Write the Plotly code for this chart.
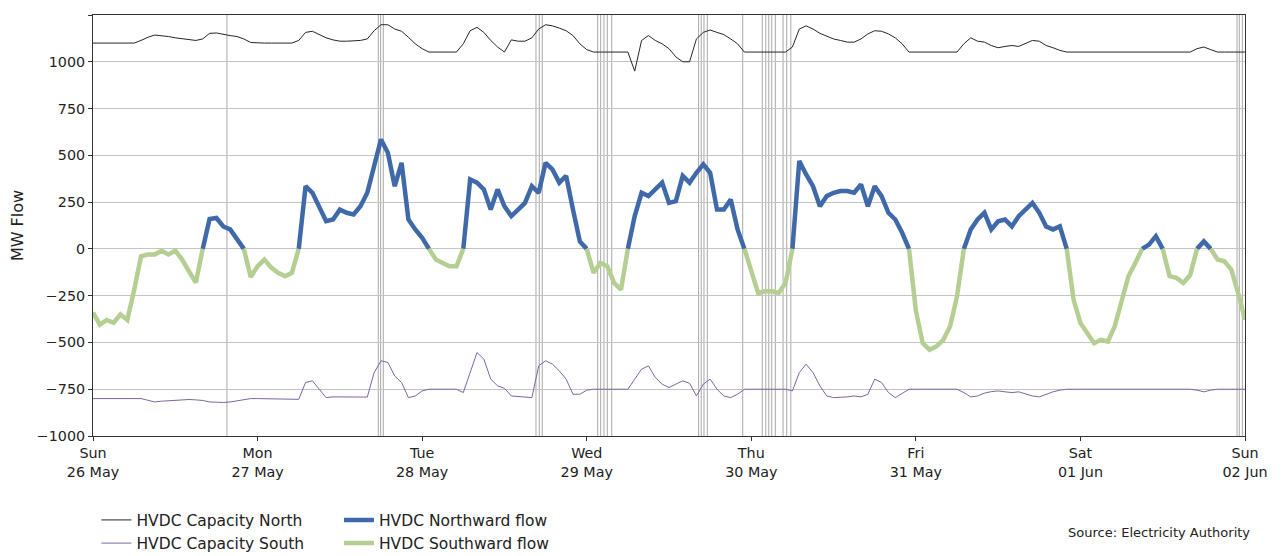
import pandas as pd
import plotly.graph_objects as go

start_time = "2024-05-26 00:00"
n_hours = 169

capacity_north = [
    1100, 1100, 1100, 1100, 1100, 1100, 1100,
    1114, 1131, 1143, 1140, 1135, 1128, 1122, 1117, 1114, 1122, 1152, 1154, 1145, 1140, 1135, 1122, 1103,
    1100, 1100, 1100, 1100, 1100, 1100,
    1114, 1157, 1163, 1145, 1128, 1117, 1110, 1110, 1110, 1114, 1122, 1166, 1198, 1198, 1175, 1163, 1131, 1096, 1070, 1052,
    1052, 1052, 1052, 1052,
    1096, 1166, 1184, 1157, 1114, 1079, 1052, 1117, 1110, 1110, 1128, 1175, 1198, 1192, 1180, 1166, 1140, 1096, 1065, 1052,
    1052, 1052, 1052, 1052, 1052,
    950, 1114, 1140, 1114, 1096, 1070, 1026, 1000, 1000, 1122, 1157, 1170, 1157, 1145, 1122, 1096, 1052,
    1052, 1052, 1052, 1052, 1052, 1052,
    1079, 1175, 1192, 1175, 1152, 1135, 1122, 1114, 1105, 1105, 1122, 1149, 1166, 1163, 1149, 1128, 1096, 1052,
    1052, 1052, 1052, 1052, 1052, 1052, 1052,
    1096, 1128, 1110, 1105, 1087, 1075, 1082, 1087, 1082, 1100, 1114, 1110, 1087, 1075, 1061,
    1052, 1052, 1052, 1052, 1052, 1052, 1052, 1052, 1052, 1052, 1052, 1052, 1052, 1052, 1052, 1052, 1052, 1052, 1052,
    1070, 1079, 1065,
    1052, 1052, 1052, 1052, 1052,
]

capacity_south = [
    -800, -800, -800, -800, -800, -800, -800, -800,
    -809, -818, -814, -812, -809, -807, -805, -807, -810, -818, -821, -821, -818, -812, -807, -800,
    -800, -800, -800, -800, -800, -800,
    -804, -714, -705, -750, -795, -791, -791, -791, -790, -791, -792, -661, -598, -607, -679, -714, -795, -786, -759, -750,
    -750, -750, -750, -750,
    -768, -661, -554, -589, -696, -732, -745, -786, -789, -791, -795, -625, -598, -616, -652, -696, -777, -777, -755, -750,
    -750, -750, -750, -750, -750,
    -696, -643, -625, -687, -723, -741, -723, -705, -718, -786, -723, -696, -750, -786, -795, -777, -750,
    -750, -750, -750, -750, -750, -750,
    -759, -661, -616, -661, -732, -786, -795, -795, -791, -786, -791, -777, -696, -714, -768, -795, -771, -750,
    -750, -750, -750, -750, -750, -750, -750,
    -768, -791, -786, -771, -763, -759, -764, -768, -764, -777, -786, -791, -777, -764, -755,
    -750, -750, -750, -750, -750, -750, -750, -750, -750, -750, -750, -750, -750, -750, -750, -750, -750, -750, -750,
    -755, -764, -755,
    -750, -750, -750, -750, -750,
]

hvdc_flow = [
    -340, -405, -380, -395, -350, -380, -220, -40, -30, -30, -10, -30, -10, -57, -120, -180,
    0, 160, 165, 120, 104, 50, 0, -150, -93, -57, -100, -128, -146, -128,
    0, 335, 300, 228, 148, 157, 210, 193, 184, 228, 300, 443, 585, 514, 335, 460, 157, 104, 59,
    0, -57, -75, -93, -93,
    0, 371, 354, 318, 210, 318, 228, 175, 210, 246, 335, 300, 460, 425, 354, 390, 210, 40,
    0, -128, -75, -93, -182, -218,
    0, 175, 300, 282, 318, 354, 246, 255, 390, 354, 407, 452, 407, 210, 210, 264, 104,
    0, -128, -236, -227, -227, -236, -182,
    0, 470, 398, 335, 228, 282, 300, 309, 309, 300, 345, 228, 335, 282, 193, 157, 86,
    0, -330, -504, -539, -521, -486, -414, -254,
    0, 104, 157, 193, 104, 148, 157, 120, 175, 210, 246, 193, 120, 104, 120,
    0, -271, -396, -450, -504, -486, -495, -414, -289, -146, -75,
    0, 23, 68, 0, -146, -155, -182, -140,
    0, 40, 0, -57, -66, -110, -236, -379,
]

event_times = [
    "2024-05-26 19:32",
    "2024-05-27 17:36", "2024-05-27 17:57", "2024-05-27 18:20",
    "2024-05-28 16:36", "2024-05-28 17:05", "2024-05-28 17:31",
    "2024-05-29 01:36", "2024-05-29 02:02", "2024-05-29 02:31", "2024-05-29 03:00", "2024-05-29 03:39",
    "2024-05-29 16:19", "2024-05-29 16:42", "2024-05-29 17:06", "2024-05-29 17:35",
    "2024-05-29 22:45",
    "2024-05-30 01:36", "2024-05-30 02:07", "2024-05-30 02:33", "2024-05-30 02:59", "2024-05-30 03:30",
    "2024-05-30 04:38", "2024-05-30 05:10", "2024-05-30 05:46",
    "2024-06-01 22:50", "2024-06-01 23:10", "2024-06-01 23:37",
]

tick_dates = ["2024-05-26", "2024-05-27", "2024-05-28", "2024-05-29",
              "2024-05-30", "2024-05-31", "2024-06-01", "2024-06-02"]
tick_labels = ["Sun<br>26 May", "Mon<br>27 May", "Tue<br>28 May", "Wed<br>29 May",
               "Thu<br>30 May", "Fri<br>31 May", "Sat<br>01 Jun", "Sun<br>02 Jun"]

times = pd.date_range(start_time, periods=n_hours, freq="h")
northward = [v if v >= 0 else None for v in hvdc_flow]
southward = [v if v <= 0 else None for v in hvdc_flow]

FONT = "DejaVu Sans"
FS = 14.3
LFS = 15.5
fig = go.Figure()
fig.add_trace(go.Scatter(x=times, y=capacity_north, mode="lines", name="HVDC Capacity North",
                         line=dict(color="#262626", width=1), legend="legend"))
fig.add_trace(go.Scatter(x=times, y=capacity_south, mode="lines", name="HVDC Capacity South",
                         line=dict(color="#8064A2", width=1), legend="legend"))
fig.add_trace(go.Scatter(x=times, y=northward, mode="lines", name="HVDC Northward flow",
                         line=dict(color="#3F69A9", width=4.5), connectgaps=False, legend="legend2"))
fig.add_trace(go.Scatter(x=times, y=southward, mode="lines", name="HVDC Southward flow",
                         line=dict(color="#B5CE92", width=4.5), connectgaps=False, legend="legend2"))

for t in event_times:
    fig.add_shape(type="line", xref="x", yref="paper", x0=t, x1=t, y0=0, y1=1,
                  line=dict(color="#a8a8a8", width=1), layer="between")

fig.add_annotation(text="Source: Electricity Authority", xref="paper", yref="paper",
                   x=1.006, y=-0.229, xanchor="right", yanchor="middle", showarrow=False,
                   font=dict(family=FONT, size=13, color="#222"))

fig.update_layout(
    width=1278, height=548,
    margin=dict(l=85, r=41, t=7, b=120, autoexpand=False),
    plot_bgcolor="white", paper_bgcolor="white",
    font=dict(family=FONT, size=FS, color="#222"),
    showlegend=True,
    legend=dict(x=0.003, y=-0.16, xanchor="left", yanchor="top", orientation="v",
                bgcolor="rgba(0,0,0,0)", font=dict(family=FONT, size=LFS), itemwidth=30, tracegroupgap=0),
    legend2=dict(x=0.2135, y=-0.16, xanchor="left", yanchor="top", orientation="v",
                 bgcolor="rgba(0,0,0,0)", font=dict(family=FONT, size=LFS), itemwidth=30, tracegroupgap=0),
)
fig.update_xaxes(range=[tick_dates[0], tick_dates[-1]], tickvals=tick_dates, ticktext=tick_labels,
                 showgrid=False, showline=True, linecolor="#333", linewidth=1, mirror=True, automargin=False,
                 ticks="outside", ticklen=4, tickcolor="#333", tickfont=dict(family=FONT, size=FS))
fig.update_yaxes(range=[-1000, 1250], tickvals=[-1000, -750, -500, -250, 0, 250, 500, 750, 1000, 1250],
                 showgrid=True, gridcolor="#c4c4c4", gridwidth=1, zeroline=False, automargin=False,
                 showline=True, linecolor="#333", linewidth=1, mirror=True,
                 ticks="outside", ticklen=4, tickcolor="#333", tickfont=dict(family=FONT, size=FS),
                 title=dict(text="MW Flow", font=dict(family=FONT, size=16), standoff=12))

fig.write_html("out.html")
